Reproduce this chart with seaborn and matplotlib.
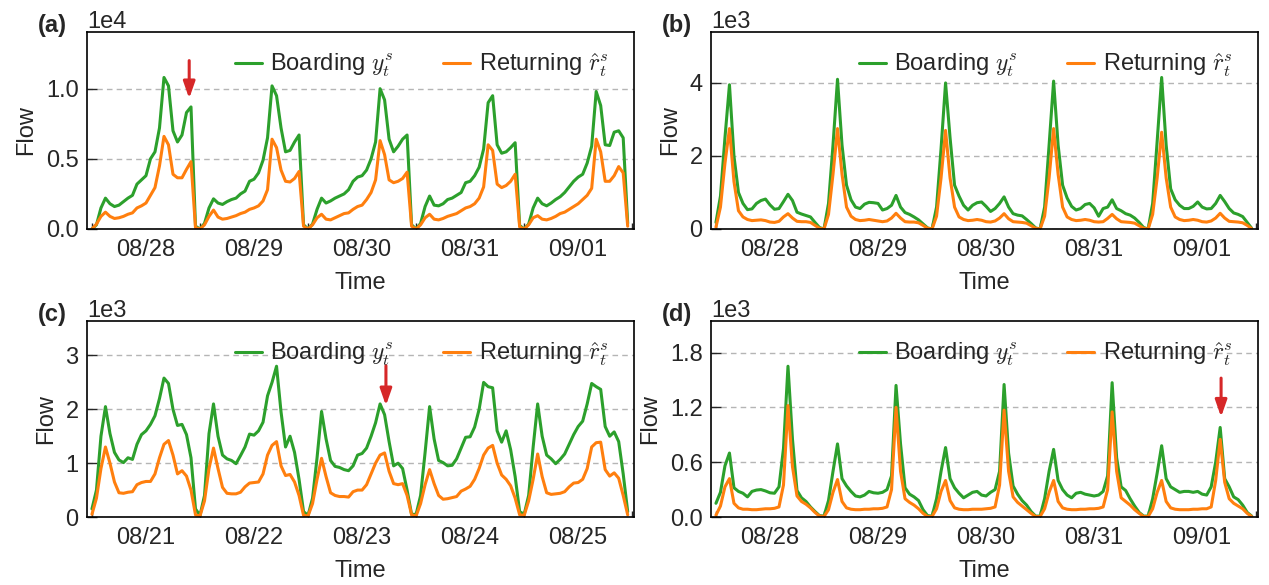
import matplotlib
matplotlib.use("Agg")
import numpy as np
import pandas as pd
import matplotlib.pyplot as plt
import matplotlib.ticker as mticker
import seaborn as sns

sns.set_style("ticks")
plt.rcParams["font.family"] = ["Liberation Sans", "DejaVu Sans"]
plt.rcParams["mathtext.fontset"] = "cm"

GREEN = "#2ca02c"
ORANGE = "#ff7f0e"
RED = "#d62728"
FS = 17

HOURS = 24
N_DAYS = 5

# panel (a) - one row per day, 24 samples per day
A_BOARD = [
    0, 300, 1500, 2200, 1800, 1600, 1700, 1950, 2200, 2400, 3200, 3500, 3800, 5000, 5500, 7200, 10800, 10200, 7000, 6200, 6700, 8300, 8700, 200,
    0, 400, 1500, 2150, 1850, 1750, 1950, 2100, 2200, 2500, 2700, 3400, 3550, 4000, 4900, 6500, 10200, 9500, 7200, 5500, 5600, 6200, 6700, 300,
    0, 350, 1400, 2200, 1850, 2000, 2200, 2350, 2500, 2800, 3400, 3700, 3800, 4200, 5000, 6200, 10000, 9200, 6400, 5500, 5900, 6400, 6700, 300,
    0, 400, 1600, 2350, 1700, 1650, 1800, 2100, 2200, 2400, 2600, 3300, 3400, 3800, 4400, 5700, 9000, 9500, 6000, 5400, 5500, 5800, 6150, 250,
    0, 350, 1500, 2200, 1800, 1650, 1850, 2100, 2300, 2600, 3000, 3400, 3700, 3900, 4700, 5900, 9800, 8800, 6000, 5950, 6900, 7000, 6500, 400,
]
A_RETURN = [
    0, 350, 900, 1200, 900, 750, 800, 900, 1050, 1150, 1500, 1650, 1850, 2400, 2950, 4500, 6600, 6000, 3900, 3650, 3650, 4250, 4800, 100,
    0, 300, 900, 1350, 850, 700, 750, 850, 950, 1100, 1200, 1400, 1500, 1650, 2000, 2800, 6400, 5800, 4200, 3400, 3350, 3600, 4100, 200,
    0, 300, 800, 1050, 700, 650, 800, 950, 1100, 1150, 1400, 1600, 1700, 2100, 2600, 3500, 6300, 5300, 3500, 3300, 3400, 3600, 4050, 200,
    0, 300, 800, 1050, 700, 650, 750, 900, 1000, 1100, 1300, 1500, 1600, 1800, 2200, 3000, 6000, 5600, 3200, 2950, 3100, 3400, 3900, 150,
    0, 300, 800, 950, 700, 650, 750, 900, 1100, 1200, 1400, 1600, 1800, 2100, 2400, 2900, 6400, 5500, 3400, 3400, 3800, 4450, 4000, 200,
]

# panel (b)
B_BOARD = [
    180, 900, 2500, 3950, 2000, 1000, 700, 530, 550, 700, 780, 820, 660, 540, 560, 750, 950, 780, 460, 410, 370, 330, 180, 40,
    0, 700, 2300, 4100, 2300, 1200, 800, 600, 560, 680, 730, 720, 700, 520, 560, 650, 920, 600, 450, 400, 330, 250, 140, 30,
    0, 600, 2200, 4000, 2500, 1200, 900, 650, 520, 650, 720, 740, 620, 480, 560, 700, 880, 600, 420, 380, 360, 260, 150, 30,
    0, 600, 2300, 4050, 2300, 1200, 850, 620, 520, 560, 670, 700, 580, 350, 560, 600, 800, 560, 500, 420, 380, 300, 180, 40,
    0, 700, 2400, 4150, 2300, 1100, 800, 650, 560, 560, 620, 740, 600, 550, 560, 700, 920, 750, 560, 440, 400, 340, 180, 20,
]
B_RETURN = [
    50, 600, 1800, 2750, 1300, 500, 330, 260, 230, 240, 250, 230, 190, 180, 210, 330, 420, 300, 210, 200, 200, 180, 100, 20,
    0, 400, 1500, 2750, 1500, 600, 350, 260, 230, 240, 260, 240, 220, 200, 220, 300, 430, 300, 200, 190, 190, 170, 100, 20,
    0, 350, 1400, 2700, 1400, 600, 330, 260, 230, 240, 260, 240, 200, 190, 220, 300, 420, 280, 200, 190, 180, 160, 90, 20,
    0, 350, 1400, 2750, 1500, 600, 330, 260, 230, 240, 260, 240, 200, 190, 200, 290, 400, 280, 200, 190, 180, 160, 90, 20,
    0, 400, 1400, 2650, 1400, 600, 330, 260, 230, 240, 260, 240, 200, 190, 220, 300, 430, 300, 210, 200, 190, 170, 100, 10,
]

# panel (c)
C_BOARD = [
    150, 500, 1500, 2050, 1550, 1200, 1060, 1010, 1100, 1070, 1350, 1530, 1600, 1720, 1880, 2200, 2580, 2480, 2000, 1700, 1720, 1530, 1100, 150,
    30, 400, 1550, 2100, 1500, 1150, 1080, 1050, 990, 1140, 1300, 1540, 1520, 1600, 1760, 2250, 2500, 2800, 1950, 1300, 1500, 1200, 700, 100,
    30, 350, 1100, 1960, 1450, 1050, 940, 920, 880, 860, 950, 1150, 1180, 1280, 1500, 1750, 2100, 1900, 1400, 950, 1000, 900, 500, 50,
    50, 400, 1200, 2050, 1450, 1050, 1010, 950, 960, 1080, 1280, 1480, 1490, 1670, 2000, 2500, 2420, 2400, 1600, 1390, 1600, 1250, 750, 100,
    50, 400, 1300, 2100, 1500, 1150, 1080, 990, 1070, 1170, 1350, 1530, 1680, 1780, 2100, 2480, 2420, 2370, 1680, 1500, 1580, 1400, 800, 100,
]
C_RETURN = [
    50, 350, 900, 1300, 1000, 650, 450, 440, 460, 470, 600, 640, 660, 660, 800, 1100, 1350, 1420, 1150, 800, 860, 760, 500, 40,
    20, 300, 900, 1280, 900, 550, 440, 430, 430, 460, 560, 630, 640, 650, 800, 1150, 1330, 1400, 950, 770, 790, 650, 400, 30,
    20, 250, 700, 1090, 750, 450, 400, 380, 380, 370, 470, 500, 500, 600, 800, 1000, 1150, 1190, 850, 620, 600, 620, 400, 40,
    20, 250, 600, 880, 620, 400, 330, 340, 360, 380, 480, 520, 570, 700, 900, 1150, 1280, 1330, 1000, 780, 700, 580, 350, 40,
    30, 300, 700, 1170, 750, 450, 420, 430, 440, 470, 560, 630, 640, 700, 900, 1300, 1380, 1390, 880, 760, 820, 720, 400, 40,
]

# panel (d)
D_BOARD = [
    150, 270, 560, 700, 320, 280, 260, 220, 280, 295, 300, 285, 265, 260, 330, 750, 1650, 850, 290, 210, 170, 110, 60, 15,
    10, 180, 500, 800, 420, 340, 280, 230, 220, 240, 280, 265, 260, 270, 300, 450, 1440, 800, 320, 250, 220, 180, 80, 15,
    10, 200, 500, 760, 420, 320, 260, 210, 240, 270, 280, 240, 230, 270, 300, 500, 1450, 700, 340, 250, 180, 130, 60, 10,
    10, 200, 500, 740, 400, 300, 240, 210, 260, 270, 250, 240, 230, 240, 280, 450, 1470, 650, 330, 290, 200, 120, 50, 10,
    10, 200, 480, 780, 420, 330, 300, 270, 280, 280, 270, 280, 250, 240, 330, 600, 980, 420, 330, 220, 190, 130, 50, 10,
]
D_RETURN = [
    20, 120, 330, 420, 150, 100, 85, 85, 80, 80, 85, 90, 90, 95, 110, 350, 1220, 550, 230, 170, 140, 100, 50, 10,
    5, 80, 270, 410, 170, 100, 85, 80, 80, 85, 85, 90, 90, 95, 110, 300, 1200, 500, 200, 160, 130, 90, 40, 5,
    5, 90, 280, 400, 180, 100, 85, 80, 80, 85, 85, 85, 90, 95, 110, 350, 1170, 500, 220, 160, 120, 80, 40, 5,
    5, 90, 270, 400, 170, 100, 85, 80, 80, 85, 85, 90, 90, 95, 110, 300, 1150, 500, 210, 170, 130, 80, 40, 5,
    5, 90, 270, 400, 170, 100, 85, 80, 80, 80, 85, 85, 90, 90, 110, 400, 850, 380, 200, 150, 120, 90, 40, 5,
]

DATES_A = ["08/28", "08/29", "08/30", "08/31", "09/01"]
DATES_C = ["08/21", "08/22", "08/23", "08/24", "08/25"]

PANELS = [
    ("(a)", A_BOARD, A_RETURN, DATES_A, 5000),
    ("(b)", B_BOARD, B_RETURN, DATES_A, 2000),
    ("(c)", C_BOARD, C_RETURN, DATES_C, 1000),
    ("(d)", D_BOARD, D_RETURN, DATES_A, 600),
]

# arrow markers: (time index, arrow tail value, arrow tip value)
ARROWS = {"(a)": (21.6, 12000, 9300), "(c)": (65.3, 2810, 2070), "(d)": (112.2, 1520, 1095)}

W, H = 1269, 585
rects = [
    [87 / W, 1 - 229 / H, 547 / W, 197 / H],
    [711 / W, 1 - 229 / H, 547 / W, 197 / H],
    [87 / W, 1 - 517 / H, 547 / W, 196 / H],
    [711 / W, 1 - 517 / H, 547 / W, 196 / H],
]

fig = plt.figure(figsize=(W / 100, H / 100), dpi=100)
fig.patch.set_facecolor("white")

t = np.arange(HOURS * N_DAYS)
day_edges = np.arange(0, HOURS * N_DAYS + 1, HOURS)
day_mids = day_edges[:-1] + HOURS / 2

for rect, (tag, board, ret, dates, step) in zip(rects, PANELS):
    ax = fig.add_axes(rect)
    df = pd.DataFrame({"t": t, "board": board, "ret": ret})
    sns.lineplot(data=df, x="t", y="board", color=GREEN, lw=2.2, label=r"Boarding $y_t^s$", ax=ax)
    sns.lineplot(data=df, x="t", y="ret", color=ORANGE, lw=2.2, label=r"Returning $\hat{r}_t^s$", ax=ax)

    ax.set_xlim(-1.1, 120.4)
    ax.set_ylim(0, max(board) * 1.3)
    ax.yaxis.set_major_locator(mticker.MultipleLocator(step))
    fmt = mticker.ScalarFormatter()
    fmt.set_powerlimits((0, 0))
    ax.yaxis.set_major_formatter(fmt)
    ax.yaxis.get_offset_text().set_fontsize(FS)

    ax.set_xticks(day_mids)
    ax.set_xticklabels(dates)
    ax.set_xticks(day_edges, minor=True)
    ax.tick_params(axis="x", which="major", length=0, pad=7, labelsize=FS)
    ax.tick_params(axis="x", which="minor", direction="in", length=4, width=1)
    ax.tick_params(axis="y", direction="in", length=7, width=1, pad=6, labelsize=FS)

    ax.yaxis.grid(True, ls=(0, (4, 3)), color="#b5b5b5", lw=1)
    ax.set_axisbelow(True)
    for sp in ax.spines.values():
        sp.set_linewidth(1.2)
        sp.set_color("black")

    ax.set_xlabel("Time", fontsize=FS, labelpad=8)
    ax.set_ylabel("Flow", fontsize=FS, labelpad=6)

    ax.legend(loc="center right", bbox_to_anchor=(0.97, 0.83), ncol=2, frameon=False,
              fontsize=FS, handlelength=1.15, handletextpad=0.35, columnspacing=2.1,
              borderaxespad=0)

    ax.text(-0.09, 1.035, tag, transform=ax.transAxes, fontsize=FS, fontweight="bold",
            ha="left", va="center")

    if tag in ARROWS:
        x0, y_tail, y_tip = ARROWS[tag]
        ax.annotate("", xy=(x0, y_tip), xytext=(x0, y_tail),
                    arrowprops=dict(arrowstyle="-|>,head_length=1.0,head_width=0.35",
                                    color=RED, lw=2.2, mutation_scale=10,
                                    shrinkA=0, shrinkB=0))

fig.savefig("out.png", dpi=100, facecolor="white")
plt.close(fig)
print("Saved: out.png")
